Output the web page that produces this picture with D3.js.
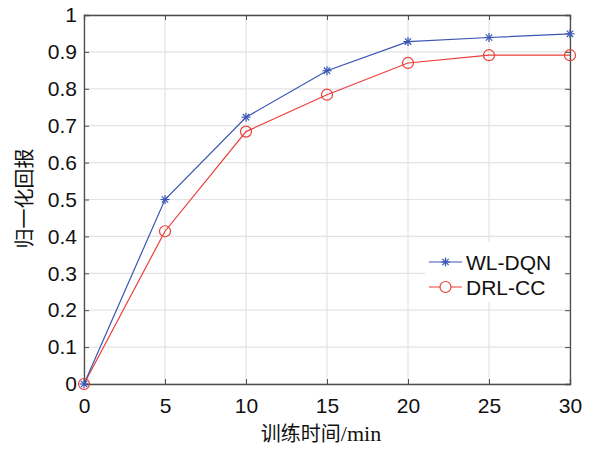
<!DOCTYPE html>
<html>
<head>
<meta charset="utf-8">
<script src="https://cdn.jsdelivr.net/npm/d3@7"></script>
<style>
  body { margin: 0; background: #fff; }
  svg { display: block; }
  .tick text { font-family: "Liberation Sans", Arial, sans-serif; font-size: 21px; fill: #111; }
</style>
</head>
<body>
<svg width="590" height="449"></svg>
<script>
// data
const times = [0, 5, 10, 15, 20, 25, 30];
const wlDqn = [0, 0.5, 0.723, 0.849, 0.928, 0.939, 0.949];
const drlCc = [0, 0.414, 0.684, 0.784, 0.870, 0.891, 0.891];
const xTicks = [0, 5, 10, 15, 20, 25, 30];
const yTicks = [0, 0.1, 0.2, 0.3, 0.4, 0.5, 0.6, 0.7, 0.8, 0.9, 1];
const seriesNames = ["WL-DQN", "DRL-CC"];

const margin = {top: 15, right: 20, bottom: 65, left: 84};
const width = 590 - margin.left - margin.right;
const height = 449 - margin.top - margin.bottom;

const blue = "#3a56b5";
const red = "#ea3f3a";
const axisColor = "#4d4d4d";

const svg = d3.select("svg")
    .append("g")
    .attr("transform", `translate(${margin.left},${margin.top})`);

const x = d3.scaleLinear().domain([0, 30]).range([0, width]);
const y = d3.scaleLinear().domain([0, 1]).range([height, 0]);

// grid
svg.append("g")
    .selectAll("line")
    .data(xTicks)
    .enter().append("line")
    .attr("x1", d => x(d)).attr("x2", d => x(d))
    .attr("y1", 0).attr("y2", height)
    .attr("stroke", "#e3e3e3").attr("stroke-width", 1.2);
svg.append("g")
    .selectAll("line")
    .data(yTicks)
    .enter().append("line")
    .attr("x1", 0).attr("x2", width)
    .attr("y1", d => y(d)).attr("y2", d => y(d))
    .attr("stroke", "#e3e3e3").attr("stroke-width", 1.2);

// axes, ticks pointing inward
svg.append("g")
    .attr("transform", `translate(0,${height})`)
    .call(d3.axisBottom(x).tickValues(xTicks).tickSize(-5).tickPadding(14).tickFormat(d3.format("d")));
svg.append("g")
    .call(d3.axisLeft(y).tickValues(yTicks).tickSize(-5).tickPadding(7).tickFormat(d => d === 0 || d === 1 ? d : d3.format(".1f")(d)));
svg.append("g")
    .call(d3.axisTop(x).tickValues(xTicks).tickSize(-5).tickFormat(""));
svg.append("g")
    .attr("transform", `translate(${width},0)`)
    .call(d3.axisRight(y).tickValues(yTicks).tickSize(-5).tickFormat(""));

svg.selectAll(".domain").attr("stroke", axisColor).attr("stroke-width", 1.3);
svg.selectAll(".tick line").attr("stroke", axisColor);

// lines
const line = d3.line()
    .x((d, i) => x(times[i]))
    .y(d => y(d));

svg.append("path").datum(drlCc)
    .attr("fill", "none").attr("stroke", red).attr("stroke-width", 1.2)
    .attr("d", line);
svg.append("path").datum(wlDqn)
    .attr("fill", "none").attr("stroke", blue).attr("stroke-width", 1.2)
    .attr("d", line);

// markers
function star(g, cx, cy, r, color) {
    for (let k = 0; k < 4; k++) {
        const a = k * Math.PI / 4;
        g.append("line")
            .attr("x1", cx - r * Math.cos(a)).attr("y1", cy - r * Math.sin(a))
            .attr("x2", cx + r * Math.cos(a)).attr("y2", cy + r * Math.sin(a))
            .attr("stroke", color).attr("stroke-width", 1.2);
    }
}

svg.selectAll(".circ")
    .data(drlCc)
    .enter().append("circle")
    .attr("cx", (d, i) => x(times[i]))
    .attr("cy", d => y(d))
    .attr("r", 5.5)
    .attr("fill", "none")
    .attr("stroke", red).attr("stroke-width", 1.2);

const stars = svg.append("g");
wlDqn.forEach((d, i) => star(stars, x(times[i]), y(d), 4.5, blue));

// legend
const leg = svg.append("g").attr("transform", "translate(341,227)");
leg.append("rect")
    .attr("width", 140).attr("height", 60)
    .attr("fill", "#fff");
const legColors = [blue, red];
seriesNames.forEach((name, i) => {
    const ly = 20 + i * 25;
    leg.append("line")
        .attr("x1", 4).attr("x2", 37).attr("y1", ly).attr("y2", ly)
        .attr("stroke", legColors[i]).attr("stroke-width", 1.2);
    if (i === 0) star(leg, 20.5, ly, 4.5, blue);
    else leg.append("circle").attr("cx", 20.5).attr("cy", ly).attr("r", 5.5)
        .attr("fill", "#fff").attr("stroke", red).attr("stroke-width", 1.2);
    leg.append("text")
        .attr("x", 41).attr("y", ly + 7.5)
        .style("font-family", "'Liberation Sans', Arial, sans-serif")
        .style("font-size", "21px")
        .style("fill", "#111")
        .text(name);
});

// axis labels
const xl = svg.append("text")
    .attr("x", width / 2 - 6)
    .attr("y", height + 57)
    .attr("text-anchor", "middle")
    .style("font-size", "20px")
    .style("fill", "#111");
xl.append("tspan")
    .style("font-family", "'Noto Sans CJK SC', sans-serif")
    .text("训练时间");
xl.append("tspan")
    .style("font-family", "'Liberation Serif', serif")
    .style("font-size", "22px")
    .text("/min");

svg.append("text")
    .attr("transform", "rotate(-90)")
    .attr("x", -height / 2 + 1)
    .attr("y", -52)
    .attr("text-anchor", "middle")
    .style("font-family", "'Noto Sans CJK SC', sans-serif")
    .style("font-size", "20px")
    .style("fill", "#111")
    .text("归一化回报");
</script>
</body>
</html>
